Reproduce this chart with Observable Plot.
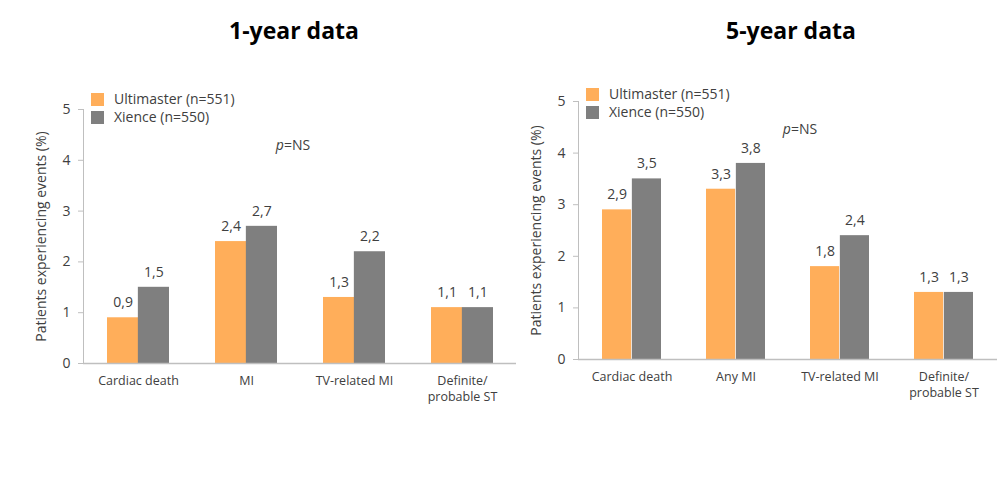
<!DOCTYPE html>
<html>
<head>
<meta charset="utf-8">
<script src="https://cdn.jsdelivr.net/npm/d3@7"></script>
<script src="https://cdn.jsdelivr.net/npm/@observablehq/plot@0.6"></script>
<style>
  html, body { margin: 0; padding: 0; background: #fff; }
  body { width: 1006px; height: 477px; position: relative; overflow: hidden; font-family: "Open Sans", "Noto Sans", sans-serif; color: #404040; }
  .panel { position: absolute; top: 0; }
  .title { position: absolute; top: 14px; font-weight: 700; font-size: 23px; color: #000; white-space: nowrap; transform: translateX(-50%); }
  .legend { position: absolute; font-size: 14px; color: #404040; line-height: 18px; }
  .legend div { display: flex; align-items: center; white-space: nowrap; }
  .legend span.sw { display: inline-block; width: 13px; height: 13px; margin-right: 10px; }
  .pns { position: absolute; font-size: 14px; color: #404040; transform: translate(-50%, -50%); white-space: nowrap; }
</style>
</head>
<body>
<div class="title" style="left:294px">1-year data</div>
<div class="title" style="left:791px">5-year data</div>
<div id="left" class="panel" style="left:0px"></div>
<div id="right" class="panel" style="left:518px"></div>
<div class="legend" style="left:91px; top:90px">
  <div><span class="sw" style="background:#FFAE5A"></span>Ultimaster (n=551)</div>
  <div><span class="sw" style="background:#7F7F7F"></span>Xience (n=550)</div>
</div>
<div class="legend" style="left:586px; top:85px">
  <div><span class="sw" style="background:#FFAE5A"></span>Ultimaster (n=551)</div>
  <div><span class="sw" style="background:#7F7F7F"></span>Xience (n=550)</div>
</div>
<div class="pns" style="left:293px; top:144px"><i>p</i>=NS</div>
<div class="pns" style="left:800px; top:128px"><i>p</i>=NS</div>
<script>
const series = ["Ultimaster (n=551)", "Xience (n=550)"];
const colors = ["#FFAE5A", "#7F7F7F"];
const categories1 = ["Cardiac death", "MI", "TV-related MI", "Definite/\nprobable ST"];
const ultimaster1 = [0.9, 2.4, 1.3, 1.1];
const xience1 = [1.5, 2.7, 2.2, 1.1];
const categories5 = ["Cardiac death", "Any MI", "TV-related MI", "Definite/\nprobable ST"];
const ultimaster5 = [2.9, 3.3, 1.8, 1.3];
const xience5 = [3.5, 3.8, 2.4, 1.3];
const yTicks = [0, 1, 2, 3, 4, 5];

const fmt = d => String(d).replace(".", ",");

function chart(cats, u, x, opts) {
  const {width, height, marginLeft, marginRight, marginTop, marginBottom} = opts;
  const padding = 0.43;
  const step = (width - marginLeft - marginRight) / cats.length;
  const bw = step * (1 - padding);
  const rows = [];
  cats.forEach((c, i) => {
    rows.push({cat: c, series: series[0], value: u[i]});
    rows.push({cat: c, series: series[1], value: x[i]});
  });
  const U = rows.filter(r => r.series === series[0]);
  const X = rows.filter(r => r.series === series[1]);
  return Plot.plot({
    width, height, marginLeft, marginRight, marginTop, marginBottom,
    style: {fontFamily: "'Open Sans', 'Noto Sans', sans-serif", fontSize: "12.5px", color: "#404040", background: "transparent"},
    x: {domain: cats, paddingInner: padding, paddingOuter: padding / 2},
    y: {domain: [0, 5]},
    color: {domain: series, range: colors},
    marks: [
      Plot.barY(U, {x: "cat", y: "value", fill: "series", insetRight: bw / 2}),
      Plot.barY(X, {x: "cat", y: "value", fill: "series", insetLeft: bw / 2}),
      Plot.text(U, {x: "cat", y: "value", text: d => fmt(d.value), dx: -bw / 4, dy: -15, fontSize: 14, fill: "#404040"}),
      Plot.text(X, {x: "cat", y: "value", text: d => fmt(d.value), dx: bw / 4, dy: -15, fontSize: 14, fill: "#404040"}),
      Plot.frame({anchor: "left", stroke: "#bfbfbf"}),
      Plot.ruleY([0], {stroke: "#bfbfbf", strokeWidth: 1.5}),
      Plot.axisY({ticks: yTicks, tickFormat: d3.format("d"), tickSize: 5, tickPadding: 8, stroke: "#bfbfbf", fill: "#404040", fontSize: 14,
        label: "Patients experiencing events (%)", labelAnchor: "center", labelArrow: "none", labelOffset: 47}),
      Plot.axisX({tickSize: 0, tickPadding: 10, fontSize: 12.5, lineHeight: 1.3, fill: "#404040", label: null})
    ]
  });
}

document.getElementById("left").append(chart(categories1, ultimaster1, xience1,
  {width: 518, height: 420, marginLeft: 83, marginRight: 2, marginTop: 109, marginBottom: 57}));
document.getElementById("right").append(chart(categories5, ultimaster5, xience5,
  {width: 482, height: 420, marginLeft: 60, marginRight: 3, marginTop: 101, marginBottom: 61}));
</script>
</body>
</html>
